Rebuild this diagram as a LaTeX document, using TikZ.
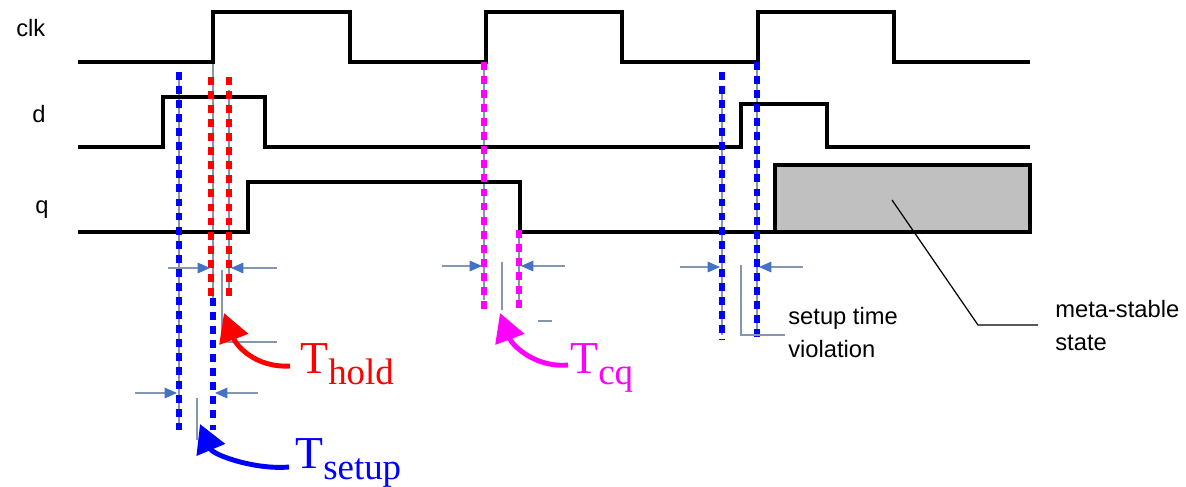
\documentclass[tikz,border=0pt]{standalone}
\usepackage{fontspec}
\setmainfont{Liberation Serif}
\setsansfont{Liberation Sans}
\usetikzlibrary{arrows.meta}
\definecolor{dimblue}{HTML}{4472C4}
\definecolor{dimgray}{HTML}{8496B0}
\definecolor{metagray}{HTML}{C0C0C0}
\definecolor{tblue}{RGB}{0,0,255}
\definecolor{tred}{RGB}{255,0,0}
\definecolor{tmag}{RGB}{255,0,255}
\newcommand{\tname}[1]{{\fontsize{26}{26}\selectfont T}\raisebox{-6.8pt}{\fontsize{21}{21}\selectfont #1}}

\begin{document}
\begin{tikzpicture}[x=0.2mm, y=-0.2mm,
  wave/.style={line width=2.3pt, line join=miter},
  tdashed/.style={line width=3pt, dash pattern=on 4.5pt off 3.5pt},
  ext/.style={dimgray, line width=0.6pt},
  dimarrow/.style={dimgray, line width=0.7pt, -{Triangle[length=7pt,width=6pt,color=dimblue]}},
  bigarrow/.style={line width=2.8pt, -{Triangle[length=16pt,width=17pt]}},
  siglabel/.style={font=\sffamily\fontsize{13.5}{16}\selectfont, inner sep=0pt, anchor=base west},
  note/.style={font=\sffamily\fontsize{13.5}{18.5}\selectfont, inner sep=0pt, anchor=base west, align=left},
  tlabel/.style={inner sep=0pt, anchor=base west}]
        \useasboundingbox (0,0) rectangle (1186,487);
        % flip-flop timing: clk, d and q with setup, hold and clk-to-q windows
        \node[siglabel] (clk) at (16,37) {clk};
        \node[siglabel] (d) at (32,122) {d};
        \node[siglabel] (q) at (35,213) {q};
        % extension lines under the dashed markers
        \draw[ext] (179,72)--(179,430);
        \draw[ext] (213,62)--(213,300);
        \draw[ext] (229,90)--(229,292);
        \draw[ext] (484,62)--(484,300);
        \draw[ext] (519,230)--(519,300);
        \draw[ext] (722,87)--(722,335);
        \draw[ext] (757,62)--(757,335);
        % waveforms
        \draw[wave] (78,62)--(213,62)--(213,12)--(350,12)--(350,62)--(486,62)--(486,12)--(622,12)
                    --(622,62)--(758,62)--(758,12)--(894,12)--(894,62)--(1030,62);
        \draw[wave] (78,147)--(163,147)--(163,97)--(265,97)--(265,147)--(741,147)--(741,104)
                    --(827,104)--(827,147)--(1030,147);
        \draw[wave] (78,232)--(248,232)--(248,182)--(520,182)--(520,232)--(775,232);
        \draw[wave, fill=metagray] (775,165) rectangle (1030,232);
        % dashed markers
        \draw[tdashed, tblue] (179,72)--(179,430);
        \draw[tdashed, tblue] (213,298)--(213,430);
        \draw[tdashed, tred] (211,77)--(211,298);
        \draw[tdashed, tred] (229,77)--(229,298);
        \draw[tdashed, tmag] (484,62)--(484,310);
        \draw[tdashed, tmag] (519,230)--(519,310);
        \draw[tdashed, tblue] (722,72)--(722,340);
        \draw[tdashed, tblue] (757,62)--(757,340);
        % dimension arrows
        \draw[dimarrow] (168,268)--(210,268);
        \draw[dimarrow] (277,268)--(231,268);
        \draw[dimarrow] (135,393)--(177,393);
        \draw[dimarrow] (258,393)--(215,393);
        \draw[dimarrow] (442,266)--(482,266);
        \draw[dimarrow] (565,266)--(521,266);
        \draw[dimarrow] (680,267)--(720,267);
        \draw[dimarrow] (803,267)--(759,267);
        % leader lines
        \draw[ext] (222,270)--(222,342)--(277,342);
        \draw[ext] (197,398)--(197,440);
        \draw[ext] (502,262)--(502,310);
        \draw[ext] (538,321)--(552,321);
        \draw[ext] (741,265)--(741,335)--(785,335);
        \draw[line width=0.7pt] (892,200)--(978,325)--(1038,325);
        % notes
        \node[note] (viol) at (788,357) {setup time\\violation};
        \node[note] (meta) at (1055,350) {meta-stable\\state};
        % timing names
        \node[tlabel, tred] (thold) at (300,373) {\tname{hold}};
        \node[tlabel, tblue] (tsetup) at (295,468) {\tname{setup}};
        \node[tlabel, tmag] (tcq) at (570,373) {\tname{cq}};
        \coordinate (holdtail) at (290,366);
        \coordinate (holdtip) at (224,313);
        \coordinate (setuptail) at (289,467);
        \coordinate (setuptip) at (200,424);
        \coordinate (cqtail) at (568,365);
        \coordinate (cqtip) at (500,313);
        \draw[bigarrow, tred] (holdtail) .. controls (255,368) and (236,345) .. (holdtip);
        \draw[bigarrow, tblue] (setuptail) .. controls (255,470) and (213,455) .. (setuptip);
        \draw[bigarrow, tmag] (cqtail) .. controls (535,368) and (512,345) .. (cqtip);
    \end{tikzpicture}
\end{document}
